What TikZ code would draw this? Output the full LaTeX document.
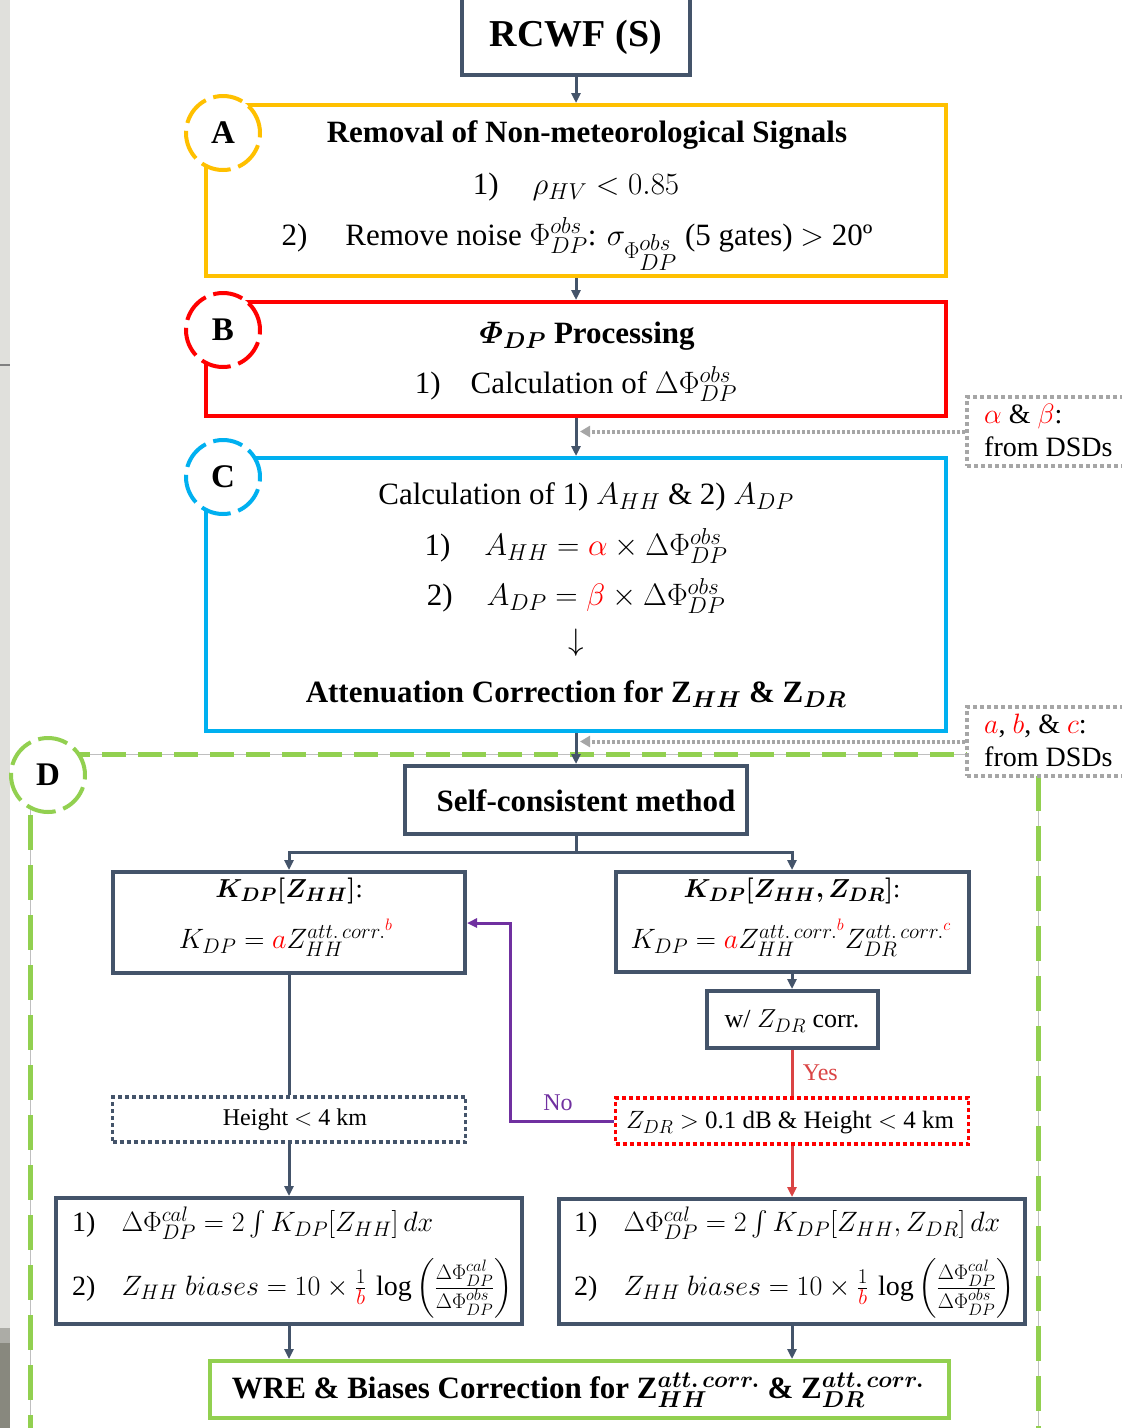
\RequirePackage{fix-cm}
\documentclass[tikz,border=0pt]{standalone}
\usepackage{amsmath,bm}
\usepackage{fontspec}
\setmainfont{Liberation Serif}
\usetikzlibrary{arrows.meta}
\DeclareMathSizes{24}{24}{18}{14}
\DeclareMathSizes{25}{25}{19}{15}
\DeclareMathSizes{26}{26}{19.5}{15.5}
\DeclareMathSizes{28}{28}{21}{16.5}
\DeclareMathSizes{31}{31}{23}{18}
\definecolor{slate}{RGB}{68,84,106}
\definecolor{ylw}{RGB}{255,192,0}
\definecolor{rd}{RGB}{255,0,0}
\definecolor{cyn}{RGB}{0,176,240}
\definecolor{grn}{RGB}{146,208,80}
\definecolor{gdot}{RGB}{166,166,166}
\definecolor{purp}{RGB}{112,48,160}
\definecolor{yesred}{RGB}{218,68,68}
\definecolor{stripA}{RGB}{224,224,220}
\definecolor{stripB}{RGB}{172,172,166}
\definecolor{stripC}{RGB}{136,136,126}
\newcommand{\fsz}[1]{\fontsize{#1}{#1}\selectfont}
\newcommand{\rc}[1]{\textcolor{rd}{#1}}
\begin{document}
\begin{tikzpicture}[x=1pt,y=-1pt,
  panel/.style={draw=#1, line width=4pt, fill=white, inner sep=0pt},
  sbox/.style={draw=slate, line width=4pt, fill=white, inner sep=0pt},
  dotbox/.style={draw=#1, line width=3.5pt, dash pattern=on 4pt off 3pt, fill=white, inner sep=0pt},
  txt/.style={inner sep=0pt, font=\fsz{31}},
  conn/.style={draw=slate, line width=3pt},
  arr/.style={conn, -{Triangle[length=10pt,width=9pt]}},
  garr/.style={draw=gdot, line width=4pt, dash pattern=on 3pt off 2pt, -{Triangle[length=10pt,width=11pt]}},
  circlab/.style={circle, minimum size=74pt, inner sep=0pt, fill=white, draw=#1, line width=4pt,
     dash pattern=on 30pt off 8pt, font=\fsz{33}\bfseries}
]
\useasboundingbox (0,0) rectangle (1122,1428);
\clip (0,0) rectangle (1122,1428);
% left strip
\fill[stripA] (0,0) rectangle (10,1428);
\fill[stripB] (0,1328) rectangle (10,1343);
\fill[stripC] (0,1343) rectangle (10,1428);
\draw[gray, line width=1.5pt] (0,365) -- (10,365);

% green region D
\draw[gray!50, line width=0.6pt] (30,1440) -- (30,754) -- (1038,754) -- (1038,1440);
\draw[grn, line width=5pt, dash pattern=on 24pt off 12pt] (30,754) -- (1038,754);
\draw[grn, line width=5pt, dash pattern=on 35pt off 15pt] (30,815) -- (30,1440);
\draw[grn, line width=5pt, dash pattern=on 35pt off 15pt] (1038,776) -- (1038,1440);

% main boxes
\node[sbox, minimum width=228pt, minimum height=86pt] (rcwf) at (576,32) {};
\node[txt, font=\fsz{38}\bfseries] (trcwf) at (576,37) {RCWF (S)};

\node[panel=ylw, minimum width=740pt, minimum height=171pt] (A) at (576,190.5) {};
\node[txt, font=\fsz{31}\bfseries] (tA1) at (587,135) {Removal of Non-meteorological Signals};
\node[txt] (tA2) at (576,187) {1)\hspace{34pt}$\rho_{HV} < 0.85$};
\node[txt] (tA3) at (577,244) {2)\hspace{38pt}Remove noise $\Phi_{DP}^{obs}$: $\sigma_{\Phi_{\scriptstyle DP}^{\scriptstyle obs}}$ (5 gates) $>$ 20º};

\node[panel=rd, minimum width=740pt, minimum height=114pt] (B) at (576,359) {};
\node[txt, font=\fsz{31}\bfseries] (tB1) at (587,336) {$\bm{\varPhi_{DP}}$ Processing};
\node[txt] (tB2) at (576,384) {1)\hspace{30pt}Calculation of $\Delta\Phi_{DP}^{obs}$};

\node[panel=cyn, minimum width=740pt, minimum height=273pt] (C) at (576,594.5) {};
\node[txt] (tC1) at (586,497) {Calculation of 1) $A_{HH}$ \& 2) $A_{DP}$};
\node[txt] (tC2) at (576,546) {1)\hspace{34pt}$A_{HH} = \rc{\alpha} \times \Delta\Phi_{DP}^{obs}$};
\node[txt] (tC3) at (576,596) {2)\hspace{34pt}$A_{DP} = \rc{\beta} \times \Delta\Phi_{DP}^{obs}$};
\node[txt] (tC4) at (576,643) {$\downarrow$};
\node[txt, font=\fsz{31}\bfseries] (tC5) at (576,694) {Attenuation Correction for Z$_{\bm{HH}}$ \& Z$_{\bm{DR}}$};

% DSD notes
\node[dotbox=gdot, minimum width=170pt, minimum height=69pt] (d1) at (1052,431.5) {};
\node[txt, anchor=west, font=\fsz{28}] (td1a) at (984,416) {$\rc{\alpha}$ \& $\rc{\beta}$:};
\node[txt, anchor=west, font=\fsz{28}] (td1b) at (984,447) {from DSDs};
\node[dotbox=gdot, minimum width=170pt, minimum height=69pt] (d2) at (1052,741.5) {};
\node[txt, anchor=west, font=\fsz{28}] (td2a) at (984,726) {$\rc{a}$, $\rc{b}$, \& $\rc{c}$:};
\node[txt, anchor=west, font=\fsz{28}] (td2b) at (984,757) {from DSDs};

% D region boxes
\node[sbox, minimum width=342pt, minimum height=68pt] (S) at (576,800) {};
\node[txt, font=\fsz{31}\bfseries] (tS) at (586,801) {Self-consistent method};

\node[sbox, minimum width=352pt, minimum height=101pt] (L) at (289,922.5) {};
\node[txt, font=\fsz{26}] (tL1) at (289,891) {$\bm{K_{DP}[Z_{HH}]}$:};
\node[txt, font=\fsz{28}] (tL2) at (286,938) {$K_{DP} = \rc{a}Z_{HH}^{att.\,corr.^{\rc{b}}}$};

\node[sbox, minimum width=353pt, minimum height=100pt] (R) at (792,922) {};
\node[txt, font=\fsz{26}] (tR1) at (792,891) {$\bm{K_{DP}[Z_{HH},Z_{DR}]}$:};
\node[txt, font=\fsz{28}] (tR2) at (791,938) {$K_{DP} = \rc{a}Z_{HH}^{att.\,corr.^{\rc{b}}}Z_{DR}^{att.\,corr.^{\rc{c}}}$};

\node[sbox, minimum width=171pt, minimum height=57pt] (W) at (792,1019.5) {};
\node[txt, font=\fsz{26}] (tW) at (792,1021) {w/ $Z_{DR}$ corr.};

\node[dotbox=slate, minimum width=353pt, minimum height=45pt] (H) at (289,1119.5) {};
\node[txt, font=\fsz{24}] (tH) at (295,1120) {Height $<$ 4 km};

\node[dotbox=rd, minimum width=353pt, minimum height=46pt] (Z) at (792,1121) {};
\node[txt, font=\fsz{25}] (tZ) at (790,1123) {$Z_{DR}$ $>$ 0.1 dB \& Height $<$ 4 km};

\node[sbox, minimum width=466pt, minimum height=126pt] (BL) at (289,1261) {};
\node[txt, anchor=west, font=\fsz{28}] (tBL1) at (72,1223) {1)\hspace{26pt}$\Delta\Phi_{DP}^{cal} = 2\int K_{DP}[Z_{HH}]\,dx$};
\node[txt, anchor=west, font=\fsz{28}] (tBL2) at (72,1288) {2)\hspace{26pt}$Z_{HH}\ biases = 10\times\frac{1}{\rc{b}}\,\log\left(\frac{\Delta\Phi_{DP}^{cal}}{\Delta\Phi_{DP}^{obs}}\right)$};

\node[sbox, minimum width=466pt, minimum height=125pt] (BR) at (792,1261.5) {};
\node[txt, anchor=west, font=\fsz{28}] (tBR1) at (574,1223) {1)\hspace{26pt}$\Delta\Phi_{DP}^{cal} = 2\int K_{DP}[Z_{HH},Z_{DR}]\,dx$};
\node[txt, anchor=west, font=\fsz{28}] (tBR2) at (574,1288) {2)\hspace{26pt}$Z_{HH}\ biases = 10\times\frac{1}{\rc{b}}\,\log\left(\frac{\Delta\Phi_{DP}^{cal}}{\Delta\Phi_{DP}^{obs}}\right)$};

\node[panel=grn, minimum width=739pt, minimum height=57pt] (F) at (579.5,1389.5) {};
\node[txt, font=\fsz{31}\bfseries] (tF) at (578,1390) {WRE \& Biases Correction for Z$^{\bm{att.\,corr.}}_{\bm{HH}}$ \& Z$^{\bm{att.\,corr.}}_{\bm{DR}}$};

% connectors
\draw[arr] (rcwf.south) -- (A.north);
\draw[arr] (A.south) -- (B.north);
\draw[arr] (B.south) -- (C.north);
\draw[arr] (C.south) -- (S.north);
\coordinate (g1) at (580,431.5);
\coordinate (g2) at (580,741.5);
\draw[garr] (d1.west) -- (g1);
\draw[garr] (d2.west) -- (g2);
\draw[conn] (S.south) -- ++(0,16) coordinate (sp);
\draw[arr] (sp) -| (L.north);
\draw[arr] (sp) -| (R.north);
\draw[conn] (L.south) -- (H.north);
\draw[arr] (H.south) -- (BL.north);
\draw[arr] (R.south) -- (W.north);
\draw[draw=yesred, line width=3pt] (W.south) -- (Z.north) node[midway, right=6pt, text=yesred, font=\fsz{24}] (yes) {Yes};
\draw[draw=yesred, line width=3pt, -{Triangle[length=10pt,width=9pt]}] (Z.south) -- (BR.north);
\coordinate (pk) at (510,923);
\draw[draw=purp, line width=3pt, -{Triangle[length=10pt,width=9pt]}] (Z.west) -| (pk) -- (pk -| L.east);
\node[txt, text=purp, font=\fsz{24}] (no) at (558,1103) {No};
\draw[arr] (BL.south) -- (BL.south |- F.north);
\draw[arr] (BR.south) -- (BR.south |- F.north);

% section circles
\node[circlab=ylw] (cA) at (223,133) {A};
\node[circlab=rd] (cB) at (223,330) {B};
\node[circlab=cyn] (cC) at (223,477) {C};
\node[circlab=grn] (cD) at (48,775) {D};
\end{tikzpicture}
\end{document}
